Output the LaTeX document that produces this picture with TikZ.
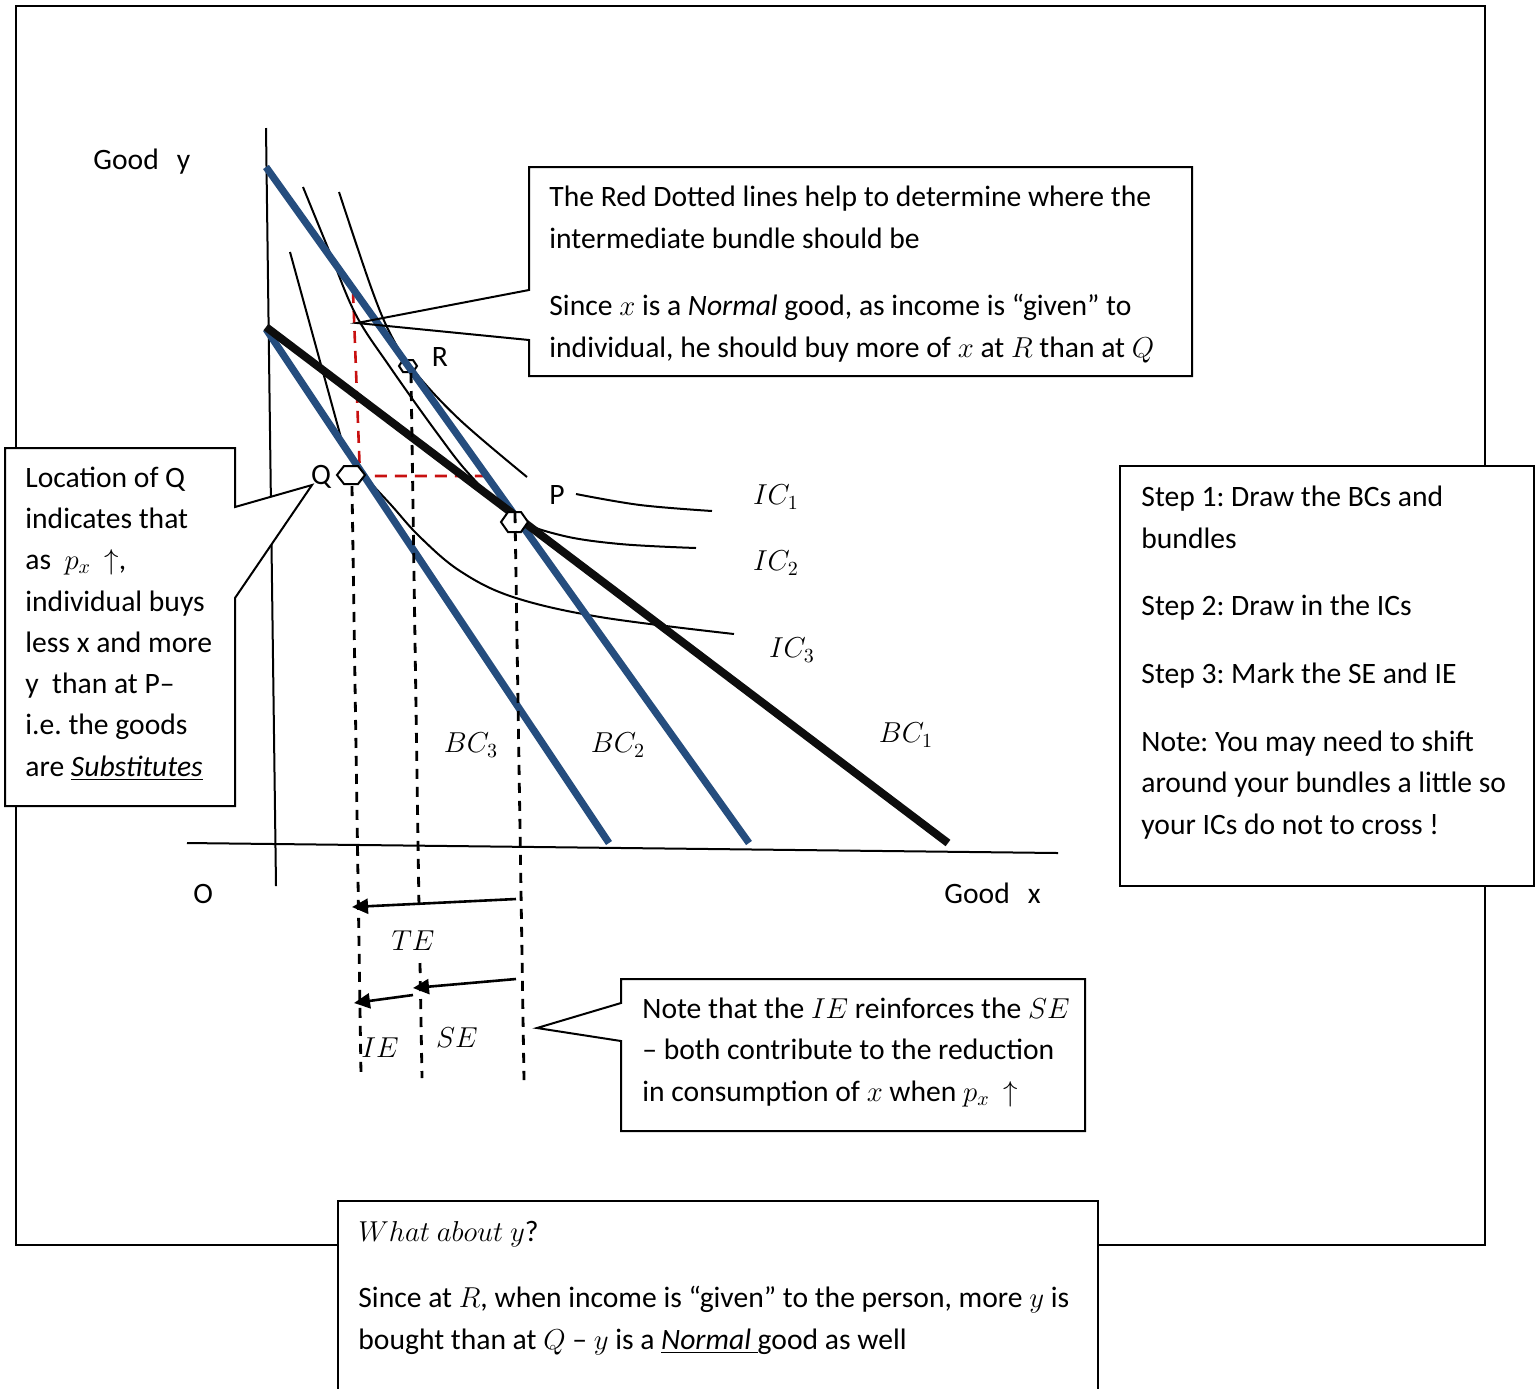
\documentclass[tikz,border=0pt]{standalone}
\usepackage{fontspec}
\setmainfont{Carlito}
\usetikzlibrary{arrows.meta}
\newcommand{\fs}{\fontsize{14.8}{20.75}\selectfont}
\definecolor{bcblue}{RGB}{37,77,126}
\definecolor{dotred}{RGB}{200,16,16}
\frenchspacing
\begin{document}
\begin{tikzpicture}[x=0.5pt,y=-0.5pt,
  thin line/.style={line width=1pt},
  boxline/.style={line width=1pt, draw=black, fill=white},
  openbox/.style={line width=1pt, draw=black},
  bluebc/.style={draw=bcblue, line width=3.6pt},
  blackbc/.style={draw=black!95, line width=4pt},
  dashv/.style={line width=1.4pt, dash pattern=on 5pt off 4pt},
  reddash/.style={draw=dotred, line width=1.3pt, dash pattern=on 6pt off 4pt},
  txt/.style={anchor=base west, inner sep=0pt, font=\fs},
  lab/.style={inner sep=0pt, font=\fs},
  arr/.style={line width=1.3pt, -{Triangle[length=8pt,width=7.5pt]}},
  hexm/.style={line width=1pt, draw=black, fill=white}]
\useasboundingbox (0,0) rectangle (1536,1388);

% outer frame
\draw[line width=1pt] (16,6) rectangle (1485,1245);

% axes
\coordinate (yt) at (266,128); \coordinate (yb) at (276,886);
\coordinate (xl) at (187,843); \coordinate (xr) at (1058,853);
\draw[thin line] (yt) -- (yb);
\draw[thin line] (xl) -- (xr);

% red dotted guide
\coordinate (rt) at (353,291); \coordinate (rc) at (360,476); \coordinate (rr) at (487,476);
\draw[reddash] (rt) -- (rc) -- (rr);

% indifference curves
\draw[thin line] plot[smooth, tension=0.6] coordinates {(339,192) (372,290) (392,337) (415,372) (460,420) (527,477)};
\draw[thin line] plot[smooth, tension=0.6] coordinates {(576,494) (640,505) (712,511)};
\draw[thin line] plot[smooth, tension=0.6] coordinates {(303,187) (330,253) (356,315) (390,367) (437,433) (470,475) (514,517) (560,535) (620,544) (696,548)};
\draw[thin line] (290,252) -- (343,445);
\draw[thin line] plot[smooth, tension=0.6] coordinates {(343,445) (365,476) (392,506) (420,537) (460,571) (513,597) (600,617) (734,634)};

% R marker (under BC2)
\draw[hexm] (399,366) -- (403,360) -- (413,360) -- (417,366) -- (413,372) -- (403,372) -- cycle;

% budget constraints
\coordinate (b2a) at (266,167); \coordinate (b2b) at (749,843);
\coordinate (b3a) at (266,329); \coordinate (b3b) at (609,843);
\coordinate (b1a) at (266,327); \coordinate (b1b) at (948,843);
\draw[bluebc] (b2a) -- (b2b);
\draw[bluebc] (b3a) -- (b3b);
\draw[blackbc] (b1a) -- (b1b);

% bundle markers
\draw[hexm] (337,475) -- (344,466) -- (358,466) -- (365,475) -- (358,484) -- (344,484) -- cycle;
\draw[hexm] (501,522) -- (508,512) -- (521,512) -- (528,522) -- (521,532) -- (508,532) -- cycle;

% dashed drop lines
\coordinate (q1) at (352,486); \coordinate (q2) at (361,1075);
\coordinate (r1) at (411,373); \coordinate (r2) at (419,908);
\coordinate (r3) at (420,963); \coordinate (r4) at (422,1078);
\coordinate (p1) at (515,513); \coordinate (p2) at (524,1080);
\draw[dashv] (q1) -- (q2);
\draw[dashv] (r1) -- (r2);
\draw[dashv] (r3) -- (r4);
\draw[dashv] (p1) -- (p2);

% effect arrows
\coordinate (te1) at (516,899); \coordinate (te2) at (352,907);
\coordinate (se1) at (516,979); \coordinate (se2) at (413,988);
\coordinate (ie1) at (413,995); \coordinate (ie2) at (354,1003);
\draw[arr] (te1) -- (te2);
\draw[arr] (se1) -- (se2);
\draw[arr] (ie1) -- (ie2);

% labels on chart
\node[txt] (goody) at (93,169) {Good\hspace{9pt}y};
\node[txt] (origin) at (193,903) {O};
\node[txt] (goodx) at (944,903) {Good\hspace{9pt}x};
\node[lab] (lq) at (321,477) {Q};
\node[lab] (lp) at (557,495) {P};
\node[lab] (lr) at (440,357) {R};
\node[lab] (ic1) at (776,497) {$IC_1$};
\node[lab] (ic2) at (776,563) {$IC_2$};
\node[lab] (ic3) at (792,650) {$IC_3$};
\node[lab] (bc3) at (471,745) {$BC_3$};
\node[lab] (bc2) at (618,745) {$BC_2$};
\node[lab] (bc1) at (906,735) {$BC_1$};
\node[lab] (te) at (413,941) {$TE$};
\node[lab] (se) at (457,1038) {$SE$};
\node[lab] (ie) at (380,1048) {$IE$};

% top callout
\draw[openbox] (529,167) -- (1192,167) -- (1192,376) -- (529,376) -- (529,340) -- (357,323) -- (529,290) -- cycle;
\node[txt] (t1) at (549,206) {The Red Dotted lines help to determine where the};
\node[txt] (t2) at (549,248) {intermediate bundle should be};
\node[txt] (t3) at (549,315) {Since $x$ is a \textit{Normal} good, as income is “given” to};
\node[txt] (t4) at (549,357) {individual, he should buy more of $x$ at $R$ than at $Q$};

% left callout
\draw[boxline] (5,448) -- (235,448) -- (235,507) -- (312,485) -- (235,598) -- (235,806) -- (5,806) -- cycle;
\node[txt] (l1) at (25,487) {Location of Q};
\node[txt] (l2) at (25,528) {indicates that};
\node[txt] (l3) at (25,569) {as~ $p_x$ ~$\uparrow$,};
\node[txt] (l4) at (25,611) {individual buys};
\node[txt] (l5) at (25,652) {less x and more};
\node[txt] (l6) at (25,693) {y~ than at P–};
\node[txt] (l7) at (25,734) {i.e. the goods};
\node[txt] (l8) at (25,776) {are \underline{\textit{Substitutes}}};

% right box
\draw[boxline] (1120,466) rectangle (1534,886);
\node[txt] (s1) at (1141,506) {Step 1: Draw the BCs and};
\node[txt] (s2) at (1141,548) {bundles};
\node[txt] (s3) at (1141,615) {Step 2: Draw in the ICs};
\node[txt] (s4) at (1141,683) {Step 3: Mark the SE and IE};
\node[txt] (s5) at (1141,751) {Note: You may need to shift};
\node[txt] (s6) at (1141,792) {around your bundles a little so};
\node[txt] (s7) at (1141,834) {your ICs do not to cross !};

% SE/IE callout
\draw[boxline] (621,979) -- (1085,979) -- (1085,1131) -- (621,1131) -- (621,1041) -- (537,1028) -- (621,1003) -- cycle;
\node[txt] (n1) at (642,1018) {Note that the $IE$ reinforces the $SE$};
\node[txt] (n2) at (642,1059) {– both contribute to the reduction};
\node[txt] (n3) at (642,1101) {in consumption of $x$ when $p_x$ ~$\uparrow$};

% bottom box
\fill[white] (338,1201) rectangle (1098,1388);
\draw[line width=1pt] (338,1390) -- (338,1201) -- (1098,1201) -- (1098,1390);
\node[txt] (w1) at (358,1241) {$What\ about\ y$?};
\node[txt] (w2) at (358,1307) {Since at $R$, when income is “given” to the person, more $y$ is};
\node[txt] (w3) at (358,1349) {bought than at $Q$ – $y$ is a \underline{\textit{Normal} }good as well};
\end{tikzpicture}
\end{document}
